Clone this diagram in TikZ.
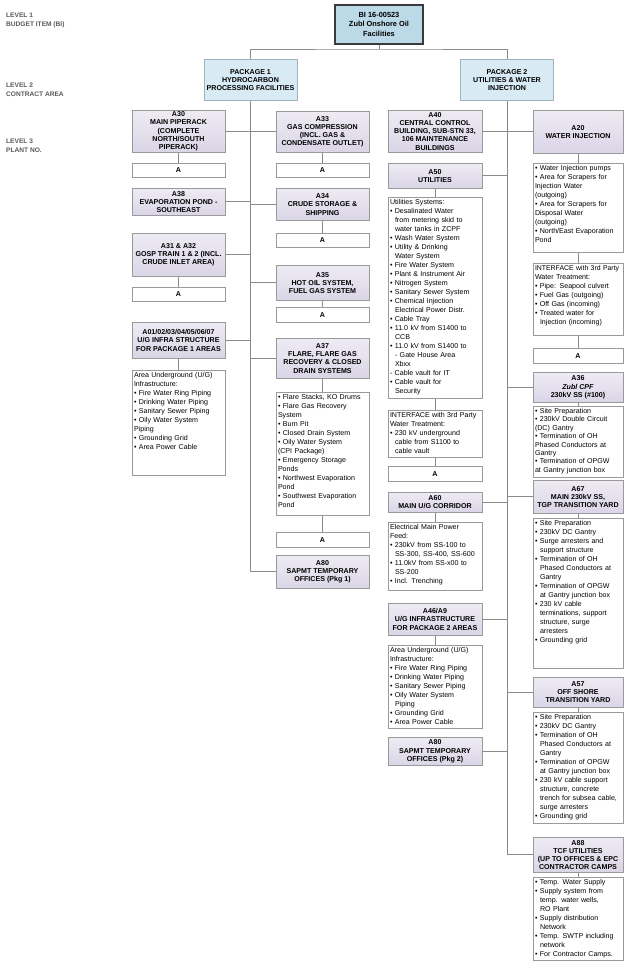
\documentclass[tikz,border=0pt]{standalone}
\usepackage{fontspec}
\setmainfont{Liberation Sans}
\definecolor{conn}{HTML}{8A8A8A}
\definecolor{boxline}{HTML}{9A9A9A}
\definecolor{topfill}{HTML}{BCD9E8}
\definecolor{topline}{HTML}{3A3A3A}
\definecolor{pkgfill}{HTML}{D8EAF3}
\definecolor{pkgline}{HTML}{9FB3BF}
\definecolor{plantA}{HTML}{EEEBF4}
\definecolor{plantB}{HTML}{DAD5E6}
\definecolor{lvl}{HTML}{5A5A5A}
\newcommand\ttlfont{\fontsize{7.1}{8.2}\selectfont\bfseries}
\newcommand\lstfont{\fontsize{7.1}{9}\selectfont}
\newcommand\toplst[2]{\parbox[t][#1][t]{\linewidth}{\raggedright #2}}
\newcommand\ind{\hspace*{5pt}}
\tikzset{
  cn/.style={draw=conn, line width=0.8pt},
  basebox/.style={draw=boxline, line width=0.7pt, align=center, font=\ttlfont, inner sep=1pt, anchor=north, text=black},
  topbox/.style={basebox, draw=topline, line width=1.6pt, fill=topfill, minimum width=88, minimum height=39, font=\fontsize{7.4}{9.5}\selectfont\bfseries},
  pkgbox/.style={basebox, draw=pkgline, line width=0.9pt, fill=pkgfill, minimum width=93, minimum height=41},
  plant/.style={basebox, top color=plantA, bottom color=plantB, minimum height=#1},
  abox/.style={basebox, fill=white, minimum height=14},
  lbox/.style={draw=boxline, line width=0.7pt, fill=white, anchor=north, font=\lstfont, inner xsep=2pt, inner ysep=2pt, align=left, text=black},
  bw/.style={minimum width=#1},
  tw/.style={text width=#1},
  lvltext/.style={anchor=north west, align=left, font=\fontsize{6.6}{9}\selectfont\bfseries, text=lvl, inner sep=0pt},
}
\begin{document}
\begin{tikzpicture}[x=1pt,y=-1pt]
\fill[white] (0,0) rectangle (626,962);
\useasboundingbox (0,0) rectangle (626,962);

% level labels
\node[lvltext] (l1) at (6,13) {LEVEL 1\\BUDGET ITEM (BI)};
\node[lvltext] (l2) at (6,83) {LEVEL 2\\CONTRACT AREA};
\node[lvltext] (l3) at (6,139) {LEVEL 3\\PLANT NO.};

% level 1 and 2
\node[topbox] (top) at (379,4) {BI 16-00523\\Zubl Onshore Oil\\Facilities};
\node[pkgbox] (p1) at (250.5,59) {PACKAGE 1\\HYDROCARBON\\PROCESSING FACILITIES};
\node[pkgbox] (p2) at (507,59) {PACKAGE 2\\UTILITIES \& WATER\\INJECTION};

% package 1, left column
\node[plant=42, bw=93] (a30) at (178.5,110) {A30\\MAIN PIPERACK\\(COMPLETE\\NORTH/SOUTH\\PIPERACK)};
\node[abox, bw=93] (aA1) at (178.5,163) {A};
\node[plant=27, bw=93] (a38) at (178.5,188) {A38\\EVAPORATION POND -\\SOUTHEAST};
\node[plant=43, bw=93] (a3132) at (178.5,233) {A31 \& A32\\GOSP TRAIN 1 \& 2 (INCL.\\CRUDE INLET AREA)};
\node[abox, bw=93] (aA2) at (178.5,287) {A};
\node[plant=36, bw=93] (a0107) at (178.5,322) {A01/02/03/04/05/06/07\\U/G INFRA STRUCTURE\\FOR PACKAGE 1 AREAS};
\node[lbox, tw=89] (tx1) at (178.5,370) {\toplst{101pt}{Area Underground (U/G)\\Infrastructure:\\• Fire Water Ring Piping\\• Drinking Water Piping\\• Sanitary Sewer Piping\\• Oily Water System\\Piping\\• Grounding Grid\\• Area Power Cable}};

% package 1, right column
\node[plant=41, bw=93] (a33) at (322.5,111) {A33\\GAS COMPRESSION\\(INCL. GAS \&\\CONDENSATE OUTLET)};
\node[abox, bw=93] (aA3) at (322.5,163) {A};
\node[plant=32, bw=93] (a34) at (322.5,188) {A34\\CRUDE STORAGE \&\\SHIPPING};
\node[abox, bw=93] (aA4) at (322.5,233) {A};
\node[plant=35, bw=93] (a35) at (322.5,265) {A35\\HOT OIL SYSTEM,\\FUEL GAS SYSTEM};
\node[abox, bw=93, minimum height=15] (aA5) at (322.5,307) {A};
\node[plant=40, bw=93] (a37) at (322.5,338) {A37\\FLARE, FLARE GAS\\RECOVERY \& CLOSED\\DRAIN SYSTEMS};
\node[lbox, tw=89] (tx2) at (322.5,392) {\toplst{119pt}{• Flare Stacks, KO Drums\\• Flare Gas Recovery\\System\\• Burn Pit\\• Closed Drain System\\• Oily Water System\\(CPI Package)\\• Emergency Storage\\Ponds\\• Northwest Evaporation\\Pond\\• Southwest Evaporation\\Pond}};
\node[abox, bw=93, minimum height=15] (aA6) at (322.5,532) {A};
\node[plant=33, bw=93] (a80a) at (322.5,555) {A80\\SAPMT TEMPORARY\\OFFICES (Pkg 1)};

% package 2, left column
\node[plant=42, bw=94] (a40) at (435,110) {A40\\CENTRAL CONTROL\\BUILDING, SUB-STN 33,\\106 MAINTENANCE\\BUILDINGS};
\node[plant=25, bw=94] (a50) at (435,163) {A50\\UTILITIES};
\node[lbox, tw=90] (tx3) at (435,197) {\toplst{197pt}{Utilities Systems:\\• Desalinated Water\\\ind from metering skid to\\\ind water tanks in ZCPF\\• Wash Water System\\• Utility \& Drinking\\\ind Water System\\• Fire Water System\\• Plant \& Instrument Air\\• Nitrogen System\\• Sanitary Sewer System\\• Chemical Injection\\\ind Electrical Power Distr.\\• Cable Tray\\• 11.0 kV from S1400 to\\\ind CCB\\• 11.0 kV from S1400 to\\\ind - Gate House Area\\\ind Xbxx\\- Cable vault for IT\\• Cable vault for\\\ind Security}};
\node[lbox, tw=90] (tx4) at (435,410) {\toplst{43pt}{INTERFACE with 3rd Party\\Water Treatment:\\• 230 kV underground\\\ind cable from S1100 to\\\ind cable vault}};
\node[abox, bw=94, minimum height=15] (aA7) at (435,466) {A};
\node[plant=20, bw=94] (a60) at (435,492) {A60\\MAIN U/G CORRIDOR};
\node[lbox, tw=90] (tx5) at (435,522) {\toplst{64pt}{Electrical Main Power\\Feed:\\• 230kV from SS-100 to\\\ind SS-300, SS-400, SS-600\\• 11.0kV from SS-x00 to\\\ind SS-200\\• Incl. Trenching}};
\node[plant=32, bw=94] (a469) at (435,603) {A46/A9\\U/G INFRASTRUCTURE\\FOR PACKAGE 2 AREAS};
\node[lbox, tw=90] (tx6) at (435,645) {\toplst{79pt}{Area Underground (U/G)\\Infrastructure:\\• Fire Water Ring Piping\\• Drinking Water Piping\\• Sanitary Sewer Piping\\• Oily Water System\\\ind Piping\\• Grounding Grid\\• Area Power Cable}};
\node[plant=28, bw=94] (a80b) at (435,737) {A80\\SAPMT TEMPORARY\\OFFICES (Pkg 2)};

% package 2, right column
\node[plant=43, bw=90] (a20) at (578,110) {A20\\WATER INJECTION};
\node[lbox, tw=86] (tx7) at (578,163) {\toplst{85pt}{• Water Injection pumps\\• Area for Scrapers for\\Injection Water\\(outgoing)\\• Area for Scrapers for\\Disposal Water\\(outgoing)\\• North/East Evaporation\\Pond}};
\node[lbox, tw=86] (tx8) at (578,263) {\toplst{68pt}{{\fontsize{6.9}{9}\selectfont INTERFACE with 3rd Party}\\Water Treatment:\\• Pipe: Seapool culvert\\• Fuel Gas (outgoing)\\• Off Gas (incoming)\\• Treated water for\\\ind Injection (incoming)}};
\node[abox, bw=90, minimum height=15] (aA8) at (578,348) {A};
\node[plant=30, bw=90] (a36) at (578,372) {A36\\\textit{Zubl CPF}\\230kV SS (\#100)};
\node[lbox, tw=86] (tx9) at (578,406) {\toplst{67pt}{\fontsize{7.1}{8.4}\selectfont • Site Preparation\\• 230kV Double Circuit\\(DC) Gantry\\• Termination of OH\\Phased Conductors at\\Gantry\\• Termination of OPGW\\at Gantry junction box}};
\node[plant=33, bw=90] (a67) at (578,480) {A67\\MAIN 230kV SS,\\TGP TRANSITION YARD};
\node[lbox, tw=86] (tx10) at (578,518) {\toplst{146pt}{• Site Preparation\\• 230kV DC Gantry\\• Surge arresters and\\\ind support structure\\• Termination of OH\\\ind Phased Conductors at\\\ind Gantry\\• Termination of OPGW\\\ind at Gantry junction box\\• 230 kV cable\\\ind terminations, support\\\ind structure, surge\\\ind arresters\\• Grounding grid}};
\node[plant=30, bw=90] (a57) at (578,677) {A57\\OFF SHORE\\TRANSITION YARD};
\node[lbox, tw=86] (tx11) at (578,712) {\toplst{107pt}{• Site Preparation\\• 230kV DC Gantry\\• Termination of OH\\\ind Phased Conductors at\\\ind Gantry\\• Termination of OPGW\\\ind at Gantry junction box\\• 230 kV cable support\\\ind structure, concrete\\\ind trench for subsea cable,\\\ind surge arresters\\• Grounding grid}};
\node[plant=35, bw=90] (a88) at (578,837) {A88\\TCF UTILITIES\\(UP TO OFFICES \& EPC\\CONTRACTOR CAMPS};
\node[lbox, tw=86] (tx12) at (578,877) {\toplst{79pt}{• Temp. Water Supply\\• Supply system from\\\ind temp. water wells,\\\ind RO Plant\\• Supply distribution\\\ind Network\\• Temp. SWTP including\\\ind network\\• For Contractor Camps.}};

% connectors: top level
\coordinate (hub) at (379,49);
\draw[cn] (top.south) -- (hub);
\draw[cn] (p1.north) |- (hub) -| (p2.north);

% package 1 trunk and branches
\draw[cn] (p1.south) |- (a80a.west);
\draw[cn] (a30.east) -- (a30.east -| a33.west);
\draw[cn] (a38.east) -- (a38.east -| p1.south);
\draw[cn] (a34.west) -- (a34.west -| p1.south);
\draw[cn] (a3132.east) -- (a3132.east -| p1.south);
\draw[cn] (a35.west) -- (a35.west -| p1.south);
\draw[cn] (a0107.east) -- (a0107.east -| p1.south);
\draw[cn] (a37.west) -- (a37.west -| p1.south);
\draw[cn] (a30) -- (aA1);
\draw[cn] (a3132) -- (aA2);
\draw[cn] (a0107) -- (tx1);
\draw[cn] (a33) -- (aA3);
\draw[cn] (a34) -- (aA4);
\draw[cn] (a35) -- (aA5);
\draw[cn] (a37) -- (tx2);
\draw[cn] (tx2) -- (aA6);

% package 2 trunk and branches
\draw[cn] (p2.south) |- (a88.west);
\draw[cn] (a40.east) -- (a40.east -| a20.west);
\draw[cn] (a50.east) -- (a50.east -| p2.south);
\draw[cn] (a60.east) -- (a60.east -| p2.south);
\draw[cn] (a469.east) -- (a469.east -| p2.south);
\draw[cn] (a80b.east) -- (a80b.east -| p2.south);
\draw[cn] (a36.west) -- (a36.west -| p2.south);
\draw[cn] (a67.west) -- (a67.west -| p2.south);
\draw[cn] (a57.west) -- (a57.west -| p2.south);
\draw[cn] (a50) -- (tx3);
\draw[cn] (tx3) -- (tx4);
\draw[cn] (tx4) -- (aA7);
\draw[cn] (a60) -- (tx5);
\draw[cn] (a469) -- (tx6);
\draw[cn] (a20) -- (tx7);
\draw[cn] (tx7) -- (tx8);
\draw[cn] (tx8) -- (aA8);
\draw[cn] (a36) -- (tx9);
\draw[cn] (a67) -- (tx10);
\draw[cn] (a57) -- (tx11);
\draw[cn] (a88) -- (tx12);
\end{tikzpicture}
\end{document}
